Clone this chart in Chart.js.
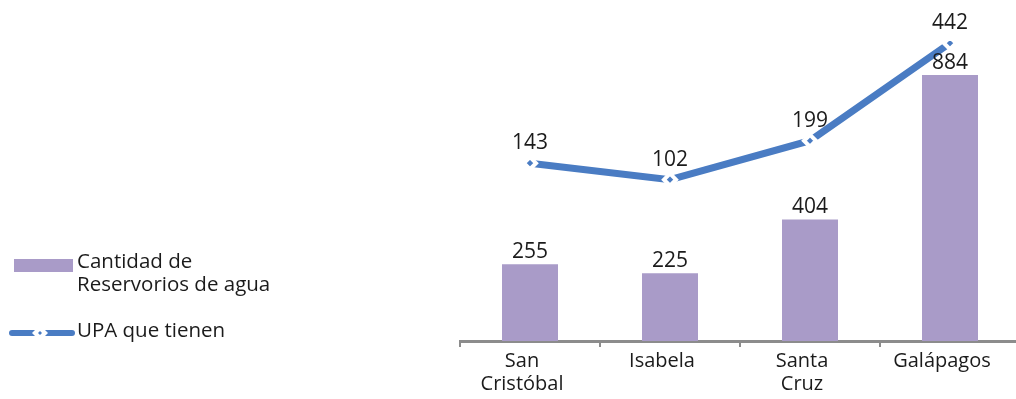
<!DOCTYPE html>
<html>
<head>
<meta charset="utf-8">
<script src="https://cdn.jsdelivr.net/npm/chart.js@4/dist/chart.umd.min.js"></script>
<style>
  html, body { margin: 0; padding: 0; background: #fff; overflow: hidden; }
  #wrap { width: 1030px; height: 399px; }
</style>
</head>
<body>
<div id="wrap"><canvas id="chart"></canvas></div>
<script>
// data
const islas = [['San', 'Cristóbal'], 'Isabela', ['Santa', 'Cruz'], 'Galápagos'];
const reservorios = [255, 225, 404, 884];
const upa = [143, 102, 199, 442];
const barLegend = ['Cantidad de', 'Reservorios de agua'];
const lineLegend = ['UPA que tienen'];

const PURPLE = '#a99bc8';
const BLUE = '#4a7cc3';
const FONT = '"Open Sans", "Liberation Sans", sans-serif';

// numbers above bars and points
const valueLabels = {
  id: 'valueLabels',
  afterDatasetsDraw(chart) {
    const ctx = chart.ctx;
    ctx.save();
    ctx.font = '21px ' + FONT;
    ctx.fillStyle = '#1b1b1b';
    ctx.textAlign = 'center';
    ctx.textBaseline = 'middle';
    chart.data.datasets.forEach((ds, i) => {
      const meta = chart.getDatasetMeta(i);
      meta.data.forEach((el, j) => {
        const dy = ds.type === 'bar' ? 12 : 20;
        ctx.fillText(String(ds.data[j]), el.x, el.y - dy);
      });
    });
    ctx.restore();
  }
};

// legend sitting on the left, like the original
const sideLegend = {
  id: 'sideLegend',
  afterDraw(chart) {
    const ctx = chart.ctx;
    ctx.save();
    ctx.font = '20.5px ' + FONT;
    ctx.textBaseline = 'middle';

    ctx.fillStyle = PURPLE;
    ctx.fillRect(14, 259, 59, 13);
    ctx.fillStyle = '#1b1b1b';
    barLegend.forEach((t, i) => ctx.fillText(t, 77, 262 + i * 23));

    ctx.strokeStyle = BLUE;
    ctx.lineWidth = 6;
    ctx.lineCap = 'round';
    ctx.beginPath();
    ctx.moveTo(12, 333);
    ctx.lineTo(72, 333);
    ctx.stroke();
    // marker
    ctx.fillStyle = '#fff';
    ctx.beginPath();
    ctx.moveTo(40, 325); ctx.lineTo(48, 333); ctx.lineTo(40, 341); ctx.lineTo(32, 333);
    ctx.closePath(); ctx.fill();
    ctx.fillStyle = BLUE;
    ctx.beginPath();
    ctx.moveTo(40, 331); ctx.lineTo(42, 333); ctx.lineTo(40, 335); ctx.lineTo(38, 333);
    ctx.closePath(); ctx.fill();

    ctx.fillStyle = '#1b1b1b';
    lineLegend.forEach((t, i) => ctx.fillText(t, 77, 331 + i * 23));
    ctx.restore();
  }
};

new Chart(document.getElementById('chart'), {
  data: {
    labels: islas,
    datasets: [
      {
        type: 'bar',
        label: barLegend.join(' '),
        data: reservorios,
        backgroundColor: PURPLE,
        barPercentage: 0.4,
        categoryPercentage: 1,
        yAxisID: 'y',
        order: 1
      },
      {
        type: 'line',
        label: lineLegend.join(' '),
        data: upa,
        borderColor: BLUE,
        borderWidth: 7,
        tension: 0,
        pointStyle: 'rectRot',
        pointRadius: 6,
        pointBackgroundColor: BLUE,
        pointBorderColor: '#fff',
        pointBorderWidth: 4,
        yAxisID: 'y1',
        order: 0
      }
    ]
  },
  options: {
    responsive: true,
    maintainAspectRatio: false,
    animation: false,
    layout: { padding: { left: 460, right: 4, top: 40, bottom: 0 } },
    plugins: { legend: { display: false }, tooltip: { enabled: false } },
    scales: {
      x: {
        offset: true,
        grid: { offset: true, drawOnChartArea: false, drawTicks: true, tickLength: 6, color: '#8c8c8c', lineWidth: 2 },
        border: { color: '#8c8c8c', width: 3 },
        ticks: { color: '#1b1b1b', font: { family: FONT, size: 20, lineHeight: 1.15 }, padding: 3, maxRotation: 0, autoSkip: false, labelOffset: -8 },
        afterFit: (s) => { s.height = 58; }
      },
      y: { display: false, min: 0, max: 1000 },
      y1: { display: false, min: -300, max: 450 }
    }
  },
  plugins: [valueLabels, sideLegend]
});
</script>
</body>
</html>
